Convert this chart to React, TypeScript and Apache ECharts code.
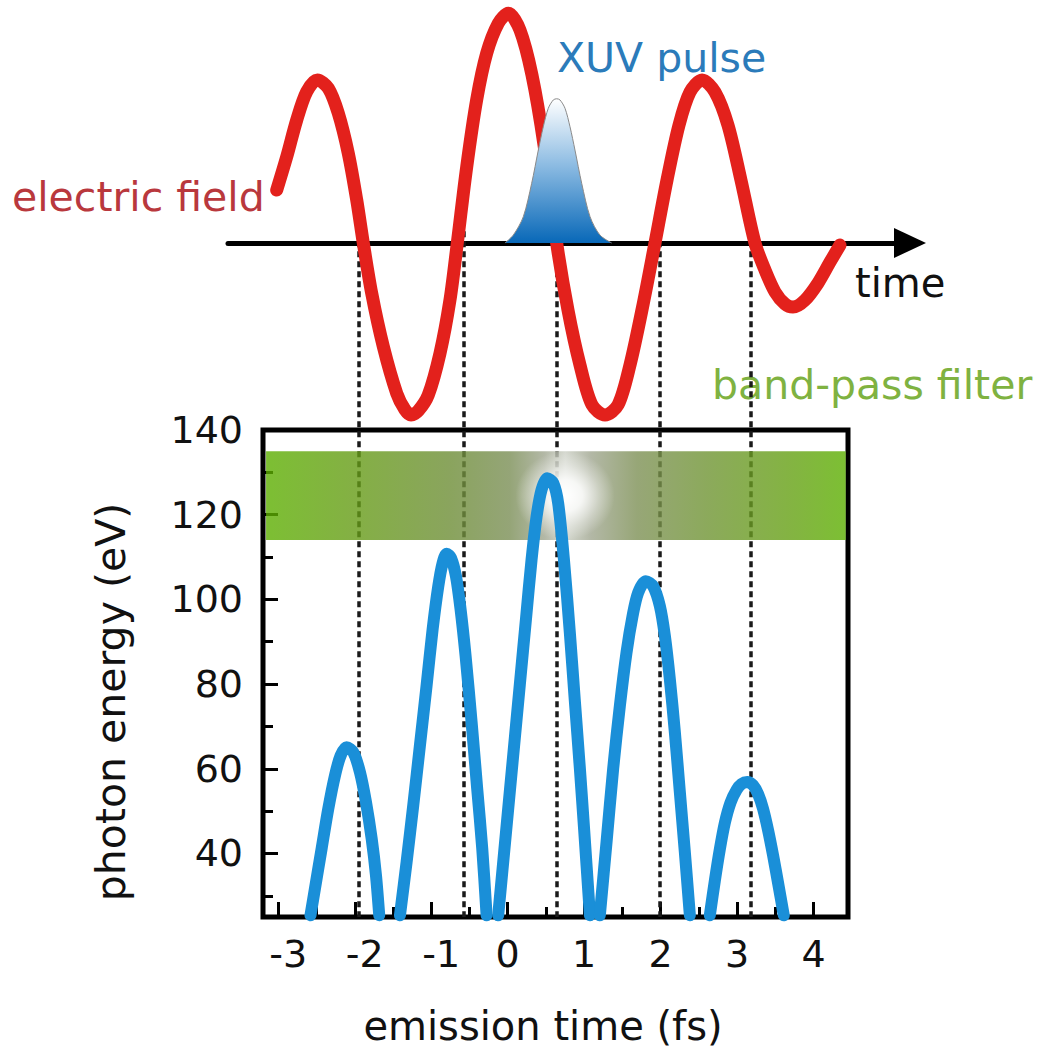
import React, { useEffect, useRef } from 'react';
import * as echarts from 'echarts';

// ---------- data ----------
// Bottom panel: photon energy (eV) vs emission time (fs), one array per emission burst
const arc1 = [[-2.579, 25.4], [-2.52, 31.8], [-2.433, 41.2], [-2.346, 50.6], [-2.259, 58.4], [-2.185, 63.1], [-2.106, 65.1], [-2.019, 63.9], [-1.932, 59.2], [-1.854, 52.2], [-1.779, 43.5], [-1.723, 34.9], [-1.68, 25.4]];
const arc2 = [[-1.409, 25.4], [-1.322, 38.0], [-1.235, 51.4], [-1.148, 65.5], [-1.061, 79.6], [-0.982, 92.9], [-0.908, 103.1], [-0.851, 108.6], [-0.799, 110.8], [-0.742, 109.8], [-0.677, 105.5], [-0.616, 97.6], [-0.551, 86.7], [-0.472, 71.0], [-0.399, 55.3], [-0.333, 41.2], [-0.276, 25.4]];
const arc3 = [[-0.124, 25.4], [-0.024, 44.7], [0.072, 63.2], [0.159, 80.0], [0.238, 95.2], [0.312, 109.4], [0.378, 119.6], [0.443, 125.9], [0.516, 128.6], [0.595, 127.5], [0.66, 122.7], [0.735, 109.4], [0.813, 92.0], [0.878, 76.0], [0.944, 60.0], [1.0, 45.5], [1.075, 25.4]];
const arc4 = [[1.205, 25.4], [1.293, 42.8], [1.379, 60.0], [1.467, 74.9], [1.554, 87.5], [1.633, 96.1], [1.706, 101.6], [1.806, 104.3], [1.902, 103.1], [1.99, 98.4], [2.055, 91.4], [2.12, 81.2], [2.186, 68.6], [2.251, 54.5], [2.316, 40.4], [2.382, 25.4]];
const arc5 = [[2.643, 25.4], [2.708, 33.5], [2.774, 41.0], [2.839, 47.2], [2.913, 52.0], [2.992, 55.0], [3.057, 56.4], [3.131, 56.9], [3.209, 56.1], [3.275, 54.0], [3.34, 50.5], [3.405, 45.5], [3.471, 39.5], [3.536, 33.0], [3.61, 25.4]];

// Top panel: driving electric field (arb. units) vs time (fs)
const fieldWave = [
  [-3.021, 0.227], [-2.89, 0.37], [-2.759, 0.528], [-2.629, 0.649], [-2.49, 0.7], [-2.346, 0.664], [-2.216, 0.557], [-2.085, 0.385], [-1.975, 0.185], [-1.889, 0],
  [-1.779, -0.216], [-1.627, -0.445], [-1.452, -0.645], [-1.345, -0.715], [-1.265, -0.738], [-1.17, -0.72], [-1.039, -0.652], [-0.886, -0.473], [-0.756, -0.245], [-0.66, 0],
  [-0.537, 0.327], [-0.407, 0.614], [-0.276, 0.814], [-0.124, 0.943], [0.007, 0.986], [0.159, 0.914], [0.316, 0.721], [0.473, 0.421], [0.639, 0],
  [0.787, -0.288], [0.944, -0.524], [1.101, -0.695], [1.271, -0.738], [1.441, -0.695], [1.597, -0.524], [1.767, -0.266], [1.924, 0],
  [2.081, 0.27], [2.238, 0.506], [2.382, 0.648], [2.539, 0.7], [2.708, 0.648], [2.878, 0.506], [3.048, 0.27], [3.231, 0],
  [3.362, -0.116], [3.493, -0.21], [3.624, -0.262], [3.728, -0.275], [3.885, -0.245], [4.055, -0.172], [4.212, -0.082], [4.342, -0.009]
];
const xuvPulse = [[-0.037, 0], [0.072, 0.034], [0.203, 0.113], [0.312, 0.256], [0.399, 0.399], [0.464, 0.499], [0.529, 0.578], [0.595, 0.614], [0.639, 0.619], [0.682, 0.614], [0.748, 0.578], [0.813, 0.499], [0.878, 0.399], [0.966, 0.256], [1.075, 0.113], [1.205, 0.034], [1.358, 0]];

// Zero crossings of the field (dashed guides)
const dashedTimes = [-1.954, -0.582, 0.639, 1.98, 3.175];
// Band-pass filter window (eV)
const bandRange = [114, 135];
const bandTime = [-3.16, 4.42];
const glowTime = [0.1, 1.4];

// Axes
const xRange = [-3.2, 4.45];
const yRange = [25, 140];
const xLabels = [-3, -2, -1, 0, 1, 2, 3, 4];
const xMinorTicks = [-2.5, -1.5, -0.5, 0.5, 1.5, 2.5, 3.5];
const yLabels = [40, 60, 80, 100, 120, 140];
const yMinorTicks = [30, 50, 70, 90, 110, 130];
const fieldRange = [-2.8927, 1.0429];
const timeAxisRange = [-3.6575, 5.2575];

const FONT = 'DejaVu Sans';

export default function App() {
  const ref = useRef<HTMLDivElement>(null);
  useEffect(() => {
    document.body.style.margin = '0';
    const chart = echarts.init(ref.current!, undefined, { renderer: 'svg' });

    const bandGrad = new echarts.graphic.LinearGradient(0, 0, 1, 0, [
      { offset: 0, color: '#5caf00' },
      { offset: 0.15, color: '#659c15' },
      { offset: 0.32, color: '#6d8d36' },
      { offset: 0.42, color: '#7a8e55' },
      { offset: 0.48, color: '#a0a690' },
      { offset: 0.516, color: '#cacec3' },
      { offset: 0.56, color: '#a0a690' },
      { offset: 0.64, color: '#7d9055' },
      { offset: 0.76, color: '#6f9433' },
      { offset: 0.9, color: '#65a014' },
      { offset: 1, color: '#5caf00' }
    ]);
    const glowGrad = new echarts.graphic.RadialGradient(0.5, 0.5, 0.5, [
      { offset: 0, color: 'rgba(255,255,255,1)' },
      { offset: 0.35, color: 'rgba(255,255,255,0.85)' },
      { offset: 0.7, color: 'rgba(255,255,255,0.35)' },
      { offset: 1, color: 'rgba(255,255,255,0)' }
    ]);
    const pulseGrad = new echarts.graphic.LinearGradient(0, 0, 0, 1, [
      { offset: 0, color: '#ffffff' },
      { offset: 0.45, color: '#8fbde3' },
      { offset: 1, color: '#0868b8' }
    ]);

    const arcSeries = [arc1, arc2, arc3, arc4, arc5].map((d, i) => ({
      name: 'burst' + (i + 1),
      type: 'line',
      xAxisIndex: 0,
      yAxisIndex: 0,
      data: d,
      smooth: 0.3,
      showSymbol: false,
      clip: false,
      silent: true,
      z: 3,
      lineStyle: { color: '#1a8fd8', width: 12, cap: 'round', join: 'round' }
    }));

    const tickStyle = { color: '#000', width: 3 };

    const option: any = {
      animation: false,
      backgroundColor: '#fff',
      grid: [
        { left: 263, right: 204, top: 430, bottom: 135, show: true, borderColor: '#000', borderWidth: 5, backgroundColor: 'transparent' },
        { left: 228, right: 142, top: 0, bottom: 135, show: false },
        { left: 263, right: 204, top: 430, bottom: 135, show: false }
      ],
      xAxis: [
        {
          gridIndex: 0, type: 'value', min: xRange[0], max: xRange[1], position: 'bottom',
          axisLine: { show: false, onZero: false }, splitLine: { show: false },
          axisTick: { show: true, inside: true, length: 15, lineStyle: tickStyle, customValues: xLabels },
          axisLabel: {
            customValues: xLabels, margin: 18,
            formatter: (v: number) => (v < 0 ? `{n|${v}}` : `{p|${v}}`),
            rich: {
              n: { fontSize: 38, fontFamily: FONT, color: '#111', padding: [0, 0, 0, 20] },
              p: { fontSize: 38, fontFamily: FONT, color: '#111' }
            }
          }
        },
        {
          gridIndex: 1, type: 'value', min: timeAxisRange[0], max: timeAxisRange[1],
          axisLine: { show: true, onZero: true, symbol: ['none', 'triangle'], symbolSize: [30, 32], lineStyle: { color: '#000', width: 5 } },
          axisTick: { show: false }, axisLabel: { show: false }, splitLine: { show: false }
        },
        {
          gridIndex: 2, type: 'value', min: xRange[0], max: xRange[1], position: 'bottom',
          axisLine: { show: false, onZero: false }, splitLine: { show: false }, axisLabel: { show: false },
          axisTick: { show: true, inside: true, length: 10, lineStyle: tickStyle, customValues: xMinorTicks }
        }
      ],
      yAxis: [
        {
          gridIndex: 0, type: 'value', min: yRange[0], max: yRange[1], position: 'left',
          axisLine: { show: false, onZero: false }, splitLine: { show: false },
          axisTick: { show: true, inside: true, length: 15, lineStyle: tickStyle, customValues: yLabels },
          axisLabel: { customValues: yLabels, margin: 20, fontSize: 38, fontFamily: FONT, color: '#111' }
        },
        {
          gridIndex: 1, type: 'value', min: fieldRange[0], max: fieldRange[1], show: false,
          splitLine: { show: false }
        },
        {
          gridIndex: 2, type: 'value', min: yRange[0], max: yRange[1], position: 'left',
          axisLine: { show: false, onZero: false }, splitLine: { show: false }, axisLabel: { show: false },
          axisTick: { show: true, inside: true, length: 10, lineStyle: tickStyle, customValues: yMinorTicks }
        }
      ],
      series: [
        {
          name: 'band-pass filter', type: 'line', xAxisIndex: 0, yAxisIndex: 0, data: [], silent: true,
          markArea: {
            silent: true, z: 2, animation: false,
            data: [
              [{ coord: [bandTime[0], bandRange[0]], itemStyle: { color: bandGrad, opacity: 0.8 } }, { coord: [bandTime[1], bandRange[1]] }],
              [{ coord: [glowTime[0], bandRange[0]], itemStyle: { color: glowGrad, opacity: 1 } }, { coord: [glowTime[1], bandRange[1]] }]
            ]
          }
        },
        ...arcSeries,
        {
          name: 'electric field', type: 'line', xAxisIndex: 1, yAxisIndex: 1, data: fieldWave,
          smooth: 0.3, showSymbol: false, clip: false, silent: true, z: 4,
          lineStyle: { color: '#e3211c', width: 13, cap: 'round', join: 'round' },
          markLine: {
            silent: true, z: 1, animation: false, symbol: ['none', 'none'], label: { show: false },
            lineStyle: { color: '#1a1a1a', width: 3.5, type: [6, 4] },
            emphasis: { disabled: true },
            data: dashedTimes.map((t) => [{ coord: [t, 0.05] }, { coord: [t, fieldRange[0]] }])
          }
        },
        {
          name: 'XUV pulse', type: 'line', xAxisIndex: 1, yAxisIndex: 1, data: xuvPulse,
          smooth: 0.3, showSymbol: false, clip: false, silent: true, z: 5,
          lineStyle: { color: '#8a8a8a', width: 1 },
          areaStyle: { color: pulseGrad, opacity: 1 }
        }
      ],
      graphic: [
        { type: 'text', x: 12, y: 197, silent: true, style: { text: 'electric field', fill: '#b9383d', fontSize: 41, fontFamily: FONT, align: 'left', verticalAlign: 'middle' } },
        { type: 'text', x: 557, y: 58, silent: true, style: { text: 'XUV pulse', fill: '#2b7bba', fontSize: 41, fontFamily: FONT, align: 'left', verticalAlign: 'middle' } },
        { type: 'text', x: 855, y: 283, silent: true, style: { text: 'time', fill: '#111', fontSize: 40, fontFamily: FONT, align: 'left', verticalAlign: 'middle' } },
        { type: 'text', x: 712, y: 385, silent: true, style: { text: 'band-pass filter', fill: '#7fb241', fontSize: 41, fontFamily: FONT, align: 'left', verticalAlign: 'middle' } },
        { type: 'text', x: 543, y: 1026, silent: true, style: { text: 'emission time (fs)', fill: '#111', fontSize: 40, fontFamily: FONT, align: 'center', verticalAlign: 'middle' } },
        { type: 'text', x: 111, y: 702, rotation: Math.PI / 2, silent: true, style: { text: 'photon energy (eV)', fill: '#111', fontSize: 41, fontFamily: FONT, align: 'center', verticalAlign: 'middle' } }
      ]
    };

    chart.setOption(option);
    return () => chart.dispose();
  }, []);
  return <div ref={ref} style={{ width: 1052, height: 1052 }} />;
}
